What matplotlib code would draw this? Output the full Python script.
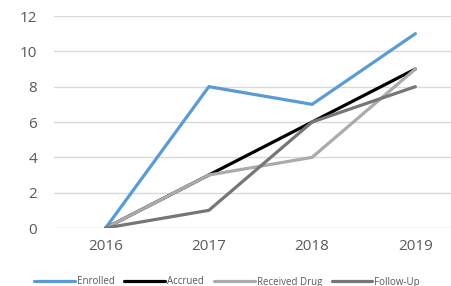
import matplotlib.pyplot as plt
import numpy as np

years = ['2016', '2017', '2018', '2019']
enrolled = [0, 8, 7, 11]
accrued = [0, 3, 6, 9]
received_drug = [0, 3, 4, 9]
follow_up = [0, 1, 6, 8]

series = [
    ('Enrolled', enrolled, '#5B9BD5'),
    ('Accrued', accrued, '#000000'),
    ('Received Drug', received_drug, '#ABABAB'),
    ('Follow-Up', follow_up, '#767676'),
]

plt.rcParams['font.family'] = ['Open Sans', 'DejaVu Sans']

fig = plt.figure(figsize=(4.52, 2.86), dpi=100)
# plot area runs past the right edge, like the cropped original
ax = fig.add_axes([54 / 452, 58 / 286, 413 / 452, 212 / 286])

x = np.arange(len(years))
lines = []
for name, vals, col in series:
    ln, = ax.plot(x, vals, color=col, linewidth=2.3, label=name,
                  solid_capstyle='round', solid_joinstyle='miter')
    lines.append(ln)

ax.set_xlim(-0.5, len(years) - 0.5)
ax.set_ylim(0, 12)
ax.set_yticks(range(0, 13, 2))
ax.set_xticks(x)
ax.set_xticklabels(years)
ax.yaxis.grid(True, color='#D9D9D9', linewidth=1)
ax.set_axisbelow(True)
for s in ax.spines.values():
    s.set_visible(False)
ax.tick_params(axis='both', length=0, labelsize=11, labelcolor='#595959')
ax.tick_params(axis='y', pad=12)
ax.tick_params(axis='x', pad=8)

fig.legend(handles=lines, loc='center', bbox_to_anchor=(227 / 452, 4 / 286),
           ncol=4, frameon=False, fontsize=7, handlelength=4.2,
           handletextpad=0.2, columnspacing=1.0, labelcolor='#595959')

fig.savefig('out.png', dpi=100)
